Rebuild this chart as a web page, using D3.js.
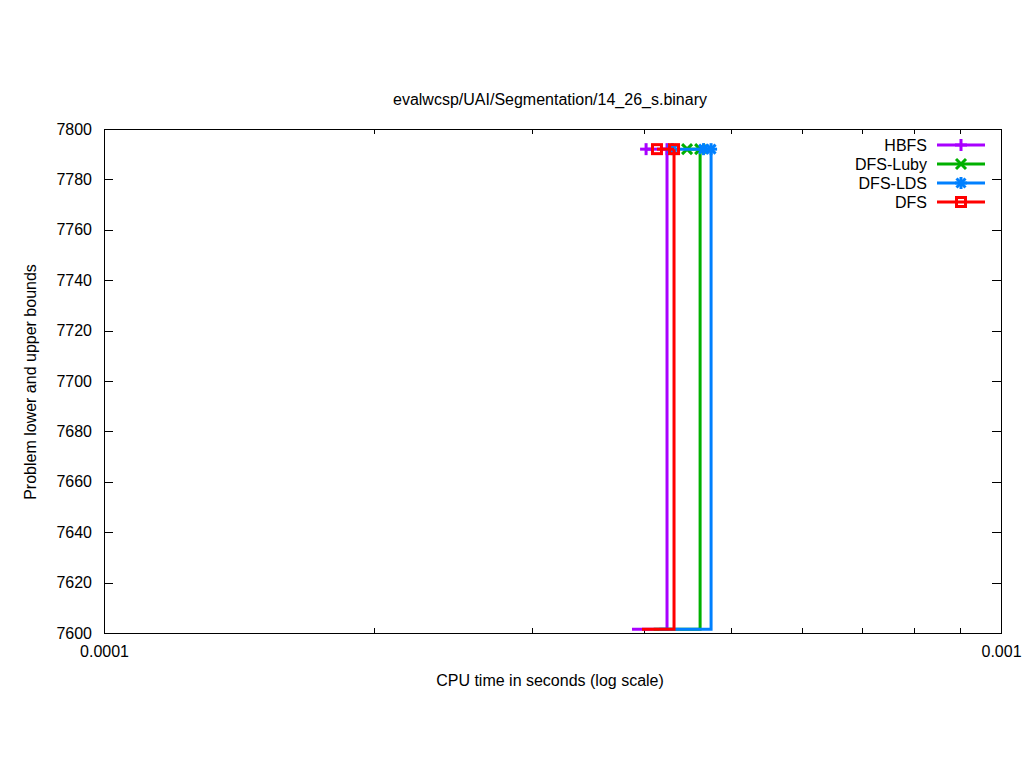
<!DOCTYPE html>
<html><head><meta charset="utf-8">
<script src="https://cdn.jsdelivr.net/npm/d3@7"></script>
<style>body{margin:0;background:#fff}svg{display:block}text{font-family:"Liberation Sans",Arial,sans-serif;fill:#000}</style>
</head><body><svg id="c" width="1024" height="768"></svg>
<script>
const title = "evalwcsp/UAI/Segmentation/14_26_s.binary";
const xLabel = "CPU time in seconds (log scale)";
const yLabel = "Problem lower and upper bounds";
const seriesNames = ["HBFS", "DFS-Luby", "DFS-LDS", "DFS"];
const seriesColors = ["#a800ff", "#00b000", "#0080ff", "#ff0000"];
const seriesMarkers = ["plus", "cross", "star", "square"];
// lower bound trace (time, value), drawn as steps
const lbTimes = [[3.878e-4, 4.243e-4], [4.10e-4, 4.619e-4], [4.16e-4, 4.751e-4], [3.979e-4, 4.320e-4]];
const lbValues = [[7601.5, 7792], [7601.5, 7792], [7601.5, 7792], [7601.5, 7792]];
// upper bound trace (time, value) with markers
const ubTimes = [[4.021e-4, 4.243e-4], [4.467e-4, 4.619e-4], [4.30e-4, 4.66e-4, 4.751e-4], [4.135e-4, 4.320e-4]];
const ubValues = [[7792, 7792], [7792, 7792], [7792, 7792, 7792], [7792, 7792]];
const yTicks = [7600, 7620, 7640, 7660, 7680, 7700, 7720, 7740, 7760, 7780, 7800];
const xMajorTicks = [1e-4, 1e-3];
const xTickLabels = ["0.0001", "0.001"];
const xMinorTicks = [2e-4, 3e-4, 4e-4, 5e-4, 6e-4, 7e-4, 8e-4, 9e-4];

const L = 104, R = 1001, T = 129, B = 633;
const FS = 16;
const svg = d3.select("#c");
const x = d3.scaleLog().domain([1e-4, 1e-3]).range([L, R]);
const y = d3.scaleLinear().domain([7600, 7800]).range([B, T]);

// tick labels via axes
const g = svg.append("g");
const bottomAxis = d3.axisBottom(x).tickValues(xMajorTicks).tickFormat((d, i) => xTickLabels[i]).tickSize(0).tickPadding(13);
g.append("g").attr("transform", `translate(0,${B})`).call(bottomAxis)
  .call(a => { a.select(".domain").remove(); a.selectAll("text").attr("font-size", FS).attr("font-family", "Liberation Sans, Arial, sans-serif").attr("dy", "0.71em"); });
const leftAxis = d3.axisLeft(y).tickValues(yTicks).tickFormat(d3.format("d")).tickSize(0).tickPadding(12);
g.append("g").attr("transform", `translate(${L},0)`).call(leftAxis)
  .call(a => { a.select(".domain").remove(); a.selectAll("text").attr("font-size", FS).attr("font-family", "Liberation Sans, Arial, sans-serif"); });

const tk = svg.append("g").attr("stroke", "#000").attr("stroke-width", 1);
yTicks.forEach(v => {
  const yy = Math.round(y(v)) + 0.5;
  tk.append("line").attr("x1", L).attr("x2", L + 9).attr("y1", yy).attr("y2", yy);
  tk.append("line").attr("x1", R - 9).attr("x2", R).attr("y1", yy).attr("y2", yy);
});
xMinorTicks.forEach(v => {
  const xx = Math.round(x(v)) + 0.5;
  tk.append("line").attr("x1", xx).attr("x2", xx).attr("y1", B).attr("y2", B - 5);
  tk.append("line").attr("x1", xx).attr("x2", xx).attr("y1", T).attr("y2", T + 5);
});
xMajorTicks.forEach(v => {
  const xx = Math.round(x(v)) + 0.5;
  tk.append("line").attr("x1", xx).attr("x2", xx).attr("y1", B).attr("y2", B - 9);
  tk.append("line").attr("x1", xx).attr("x2", xx).attr("y1", T).attr("y2", T + 9);
});

// marker drawing
function marker(sel, type, cx, cy, color) {
  const s = 6;
  const m = sel.append("g").attr("stroke", color).attr("stroke-width", 3).attr("fill", "none");
  if (type === "plus" || type === "star") {
    m.append("line").attr("x1", cx - s).attr("x2", cx + s).attr("y1", cy).attr("y2", cy);
    m.append("line").attr("x1", cx).attr("x2", cx).attr("y1", cy - s).attr("y2", cy + s);
  }
  if (type === "cross" || type === "star") {
    const c = type === "star" ? 4.5 : 5;
    m.append("line").attr("x1", cx - c).attr("x2", cx + c).attr("y1", cy - c).attr("y2", cy + c);
    m.append("line").attr("x1", cx - c).attr("x2", cx + c).attr("y1", cy + c).attr("y2", cy - c);
  }
  if (type === "square") {
    m.append("rect").attr("x", cx - 4.5).attr("y", cy - 4.5).attr("width", 9).attr("height", 9);
  }
}

// series
const plot = svg.append("g");
const stepLine = d3.line().x(d => x(d[0])).y(d => y(d[1])).curve(d3.curveStepAfter);
const plainLine = d3.line().x(d => x(d[0])).y(d => y(d[1]));
seriesNames.forEach((name, i) => {
  const lb = lbTimes[i].map((t, j) => [t, lbValues[i][j]]);
  const ub = ubTimes[i].map((t, j) => [t, ubValues[i][j]]);
  plot.append("path").attr("d", stepLine(lb)).attr("fill", "none").attr("stroke", seriesColors[i]).attr("stroke-width", 3);
  plot.append("path").attr("d", plainLine(ub)).attr("fill", "none").attr("stroke", seriesColors[i]).attr("stroke-width", 3);
  ub.forEach(d => marker(plot, seriesMarkers[i], x(d[0]), y(d[1]), seriesColors[i]));
});

// frame
svg.append("rect").attr("x", L + 0.5).attr("y", T + 0.5).attr("width", R - L).attr("height", B - T)
  .attr("fill", "none").attr("stroke", "#000").attr("stroke-width", 1);

// legend
const leg = svg.append("g");
seriesNames.forEach((name, i) => {
  const ly = 145 + i * 19;
  leg.append("text").attr("x", 927).attr("y", ly).attr("dy", "0.35em").attr("text-anchor", "end").attr("font-size", FS).text(name);
  leg.append("line").attr("x1", 937).attr("x2", 985).attr("y1", ly).attr("y2", ly).attr("stroke", seriesColors[i]).attr("stroke-width", 3);
  marker(leg, seriesMarkers[i], 961, ly, seriesColors[i]);
});

// titles
svg.append("text").attr("x", 550).attr("y", 105).attr("text-anchor", "middle").attr("font-size", FS).text(title);
svg.append("text").attr("x", 550).attr("y", 686).attr("text-anchor", "middle").attr("font-size", FS).text(xLabel);
svg.append("text").attr("transform", "translate(36,382) rotate(-90)").attr("text-anchor", "middle").attr("font-size", FS).text(yLabel);
</script></body></html>
